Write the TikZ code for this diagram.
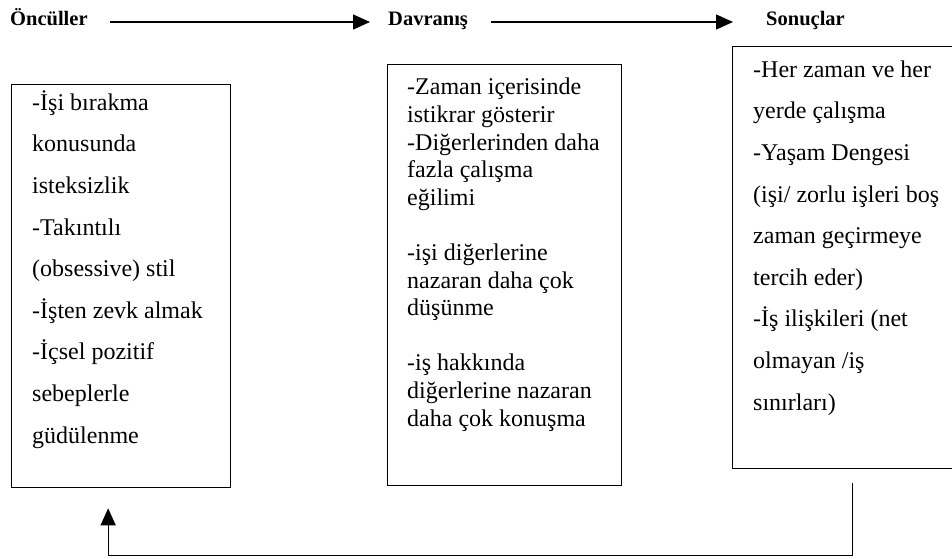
\documentclass[tikz,border=0pt]{standalone}
\usepackage{fontspec}
\setmainfont{Liberation Serif}
\usepackage{tikz}
\usetikzlibrary{arrows.meta,positioning,calc}

\tikzset{
    box/.style={draw, line width=1.3pt, inner sep=0pt, anchor=north west},
    head/.style={font=\fontsize{20.5}{24}\selectfont\bfseries, inner sep=0pt, anchor=base west},
    wide/.style={font=\fontsize{24}{41.6}\selectfont, align=left, inner sep=0pt, anchor=base west},
    tight/.style={font=\fontsize{24}{27.6}\selectfont, align=left, inner sep=0pt, anchor=base west},
    flow/.style={line width=1.3pt, -{Triangle[length=17pt,width=15pt]}}
}

\begin{document}
\begin{tikzpicture}[x=1pt, y=-1pt]
    \useasboundingbox (0,0) rectangle (952,558);
    \clip (0,0) rectangle (952,558);

    % Headings
    \node[head] (ante) at (10,25) {Öncüller};
    \node[head] (behav) at (388,25) {Davranış};
    \node[head] (conse) at (766,25) {Sonuçlar};

    % Heading arrows
    \draw[flow] ([shift={(22,-3)}]ante.base east) -- ([shift={(-18,-3)}]behav.base west);
    \draw[flow] ([shift={(23,-3)}]behav.base east) -- ([shift={(-33,-3)}]conse.base west);

    % Boxes
    \node[box, minimum width=219pt, minimum height=403pt] (antebox) at (11,84) {};
    \node[box, minimum width=234pt, minimum height=421pt] (behavbox) at (387,64) {};
    \node[box, minimum width=240pt, minimum height=422pt] (consebox) at (732,46) {};

    % Box texts (placed at the baseline of their last line)
    \node[wide] (antetext) at (32,443) {-İşi bırakma\\konusunda\\isteksizlik\\-Takıntılı\\(obsessive) stil\\-İşten zevk almak\\-İçsel pozitif\\sebeplerle\\güdülenme};
    \node[tight] (behavtext) at (407,426) {-Zaman içerisinde\\istikrar gösterir\\-Diğerlerinden daha\\fazla çalışma\\eğilimi\\[27.6pt]-işi diğerlerine\\nazaran daha çok\\düşünme\\[27.6pt]-iş hakkında\\diğerlerine nazaran\\daha çok konuşma};
    \node[wide] (consetext) at (753,410) {-Her zaman ve her\\yerde çalışma\\-Yaşam Dengesi\\(işi/ zorlu işleri boş\\zaman geçirmeye\\tercih eder)\\-İş ilişkileri (net\\olmayan /iş\\sınırları)};

    % Feedback
    \draw[flow] ([yshift=-14pt]consebox.south) -- ++(0,72) -| ([shift={(-13,20)}]antebox.south);

\end{tikzpicture}
\end{document}
